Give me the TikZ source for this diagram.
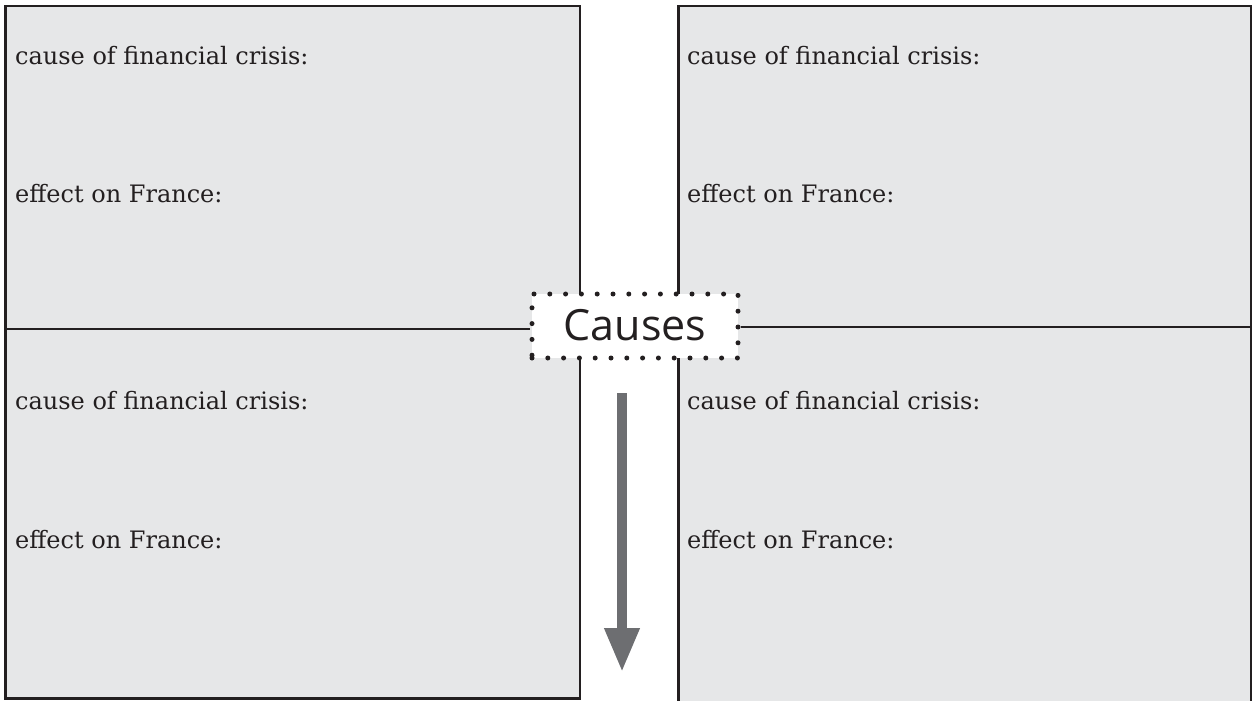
\documentclass[tikz,border=0pt]{standalone}
\usepackage{fontspec}
\setmainfont{DejaVu Serif}
\newfontfamily\causesfont{Open Sans}
\usetikzlibrary{arrows.meta}
\definecolor{panelfill}{HTML}{E6E7E8}
\definecolor{panelline}{HTML}{231F20}
\definecolor{arrowgray}{HTML}{6D6E71}
\tikzset{
  panel/.style={fill=panelfill, draw=panelline, line width=2.6pt},
  divider/.style={draw=panelline, line width=2.6pt},
  label/.style={anchor=base west, inner sep=0pt, font=\fontsize{24}{28}\selectfont, text=panelline},
  causesbox/.style={fill=white, draw=panelline, line width=5pt, dash pattern=on 0pt off 15.8pt, line cap=round,
    minimum width=206pt, minimum height=64pt, inner sep=0pt,
    font=\causesfont\fontsize{43}{46}\selectfont, text=panelline},
  bigarrow/.style={draw=arrowgray, line width=10pt, -{Triangle[width=33pt,length=44pt]}}
}
\begin{document}
\begin{tikzpicture}[x=1pt,y=-1pt]
\useasboundingbox (0,0) rectangle (1253,701);
% left panel
\path[panel] (5.5,6) rectangle (580,698.5);
% right panel (open at the bottom)
\fill[panelfill] (678.5,6) rectangle (1251,705);
\draw[divider] (678.5,705) -- (678.5,6) -- (1251,6) -- (1251,705);
% labels
\node[label] (tl1) at (15,64) {cause of financial crisis:};
\node[label] (tl2) at (15,202) {effect on France:};
\node[label] (bl1) at (15,409) {cause of financial crisis:};
\node[label] (bl2) at (15,548) {effect on France:};
\node[label] (tr1) at (687,64) {cause of financial crisis:};
\node[label] (tr2) at (687,202) {effect on France:};
\node[label] (br1) at (687,409) {cause of financial crisis:};
\node[label] (br2) at (687,548) {effect on France:};
% centre label and dividers
\node[causesbox] (causes) at (635,326) {\raisebox{3pt}{Causes}};
\coordinate (leftend) at (5.5,329);
\coordinate (rightend) at (1251,327);
\draw[divider] (leftend) -- (causes.west |- leftend);
\draw[divider] (causes.east |- rightend) -- (rightend);
% arrow
\coordinate (arrowtop) at (622,393);
\coordinate (arrowtip) at (622,672);
\draw[bigarrow] (arrowtop) -- (arrowtip);
\end{tikzpicture}
\end{document}
